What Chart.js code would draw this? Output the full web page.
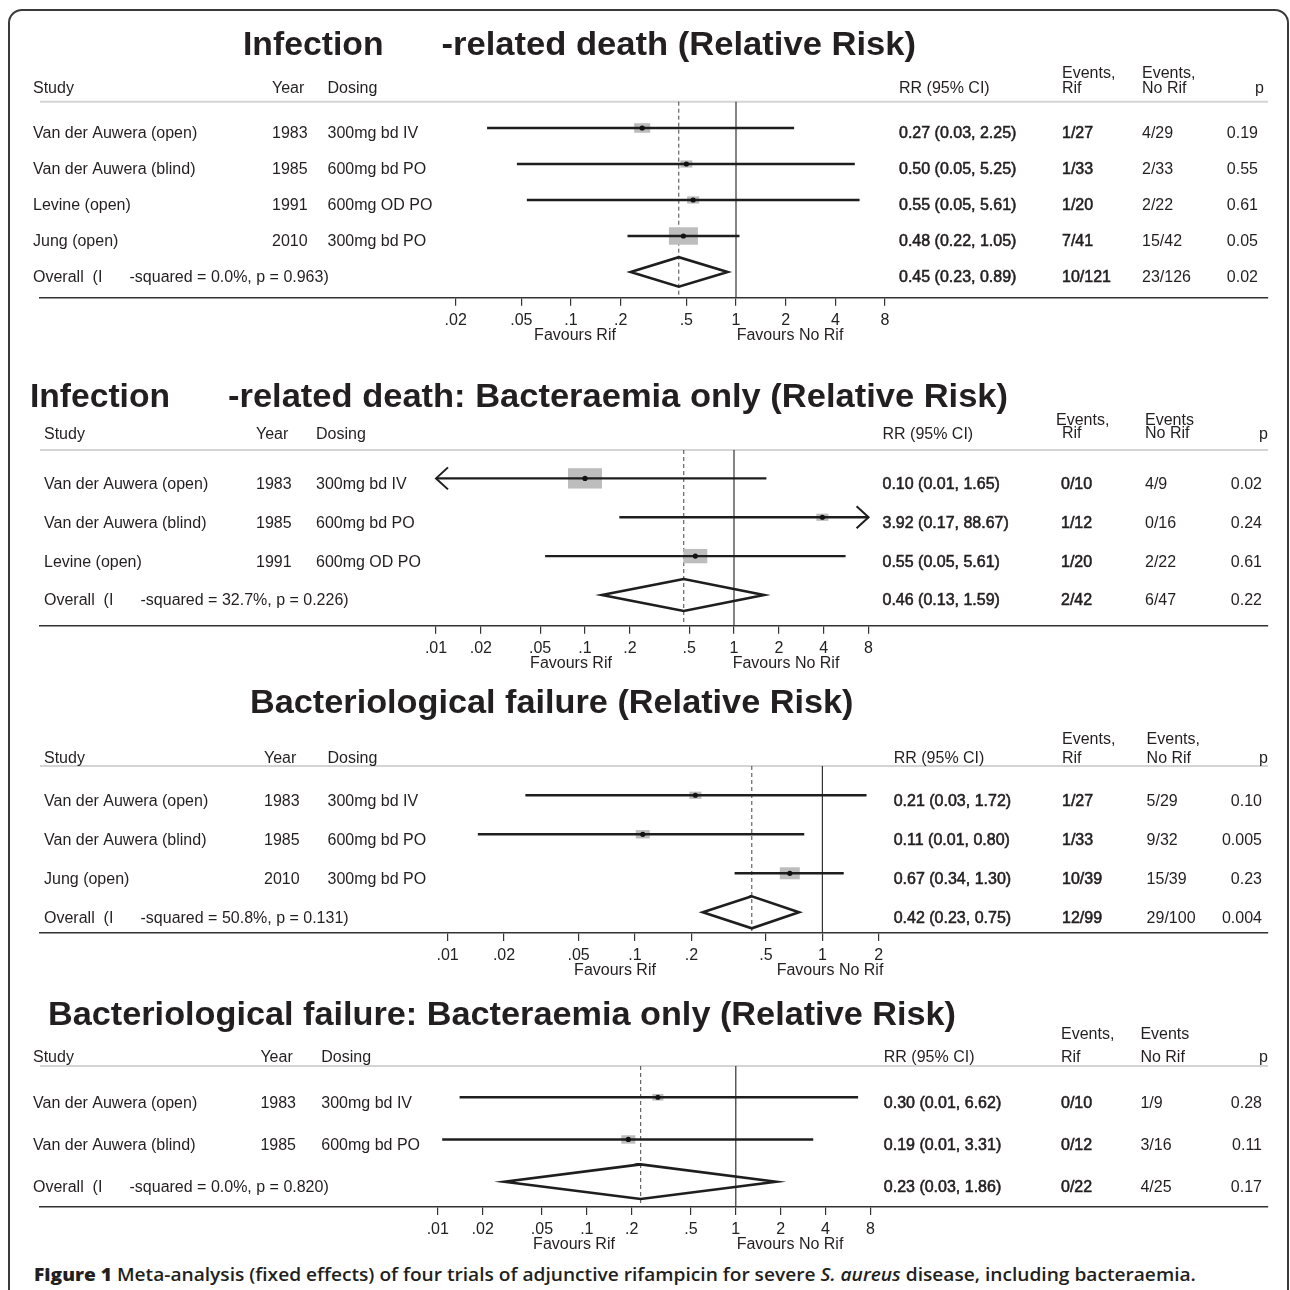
<!DOCTYPE html>
<html>
<head>
<meta charset="utf-8">
<script src="https://cdn.jsdelivr.net/npm/chart.js@4/dist/chart.umd.min.js"></script>
<style>
  html, body { margin: 0; padding: 0; background: #fff; }
  body { width: 1290px; height: 1290px; position: relative; overflow: hidden; }
  #frame { position: absolute; left: 8px; top: 9px; width: 1281px; height: 1400px; box-sizing: border-box;
           border: 2px solid #3a3a3a; border-radius: 14px; }
  canvas.panel { position: absolute; left: 0; }
  #caption { position: absolute; left: 34px; top: 1262px; line-height: 20px; white-space: nowrap;
             font: 600 18px "Open Sans", "Liberation Sans", sans-serif; color: #231f20; transform-origin: 0 0; }
  #caption b { font-weight: 800; }
</style>
</head>
<body>
<div id="frame"></div>
<canvas id="p1" class="panel"></canvas>
<canvas id="p2" class="panel"></canvas>
<canvas id="p3" class="panel"></canvas>
<canvas id="p4" class="panel"></canvas>
<div id="caption"><b>Figure 1</b> Meta-analysis (fixed effects) of four trials of adjunctive rifampicin for severe <i>S. aureus</i> disease, including bacteraemia.</div>

<script>
const FONT = '"Liberation Sans", Arial, Helvetica, sans-serif';
Chart.defaults.font.family = FONT;

// Infection-related death
const deathStudy = ['Van der Auwera (open)', 'Van der Auwera (blind)', 'Levine (open)', 'Jung (open)'];
const deathYear = ['1983', '1985', '1991', '2010'];
const deathDosing = ['300mg bd IV', '600mg bd PO', '600mg OD PO', '300mg bd PO'];
const deathRR = [0.27, 0.50, 0.55, 0.48];
const deathLow = [0.031, 0.047, 0.054, 0.22];
const deathHigh = [2.25, 5.25, 5.61, 1.05];
const deathWeight = [18.5, 10.4, 10.4, 60.7];
const deathRifEvents = [1, 1, 1, 7];
const deathRifTotal = [27, 33, 20, 41];
const deathNoRifEvents = [4, 2, 2, 15];
const deathNoRifTotal = [29, 33, 22, 42];
const deathP = ['0.19', '0.55', '0.61', '0.05'];
const deathOverall = [0.45, 0.23, 0.89];
const deathOverallP = '0.02';
const deathHetero = '-squared = 0.0%, p = 0.963)';
const deathTicks = [0.02, 0.05, 0.1, 0.2, 0.5, 1, 2, 4, 8];
const deathTickLabels = ['.02', '.05', '.1', '.2', '.5', '1', '2', '4', '8'];

// Infection-related death: bacteraemia only
const bacDeathStudy = ['Van der Auwera (open)', 'Van der Auwera (blind)', 'Levine (open)'];
const bacDeathYear = ['1983', '1985', '1991'];
const bacDeathDosing = ['300mg bd IV', '600mg bd PO', '600mg OD PO'];
const bacDeathRR = [0.10, 3.92, 0.55];
const bacDeathLow = [0.006, 0.17, 0.054];
const bacDeathHigh = [1.65, 88.67, 5.61];
const bacDeathWeight = [61.6, 7.7, 30.7];
const bacDeathRifEvents = [0, 1, 1];
const bacDeathRifTotal = [10, 12, 20];
const bacDeathNoRifEvents = [4, 0, 2];
const bacDeathNoRifTotal = [9, 16, 22];
const bacDeathP = ['0.02', '0.24', '0.61'];
const bacDeathOverall = [0.46, 0.13, 1.59];
const bacDeathOverallP = '0.22';
const bacDeathHetero = '-squared = 32.7%, p = 0.226)';
const bacDeathTicks = [0.01, 0.02, 0.05, 0.1, 0.2, 0.5, 1, 2, 4, 8];
const bacDeathTickLabels = ['.01', '.02', '.05', '.1', '.2', '.5', '1', '2', '4', '8'];

// Bacteriological failure
const failStudy = ['Van der Auwera (open)', 'Van der Auwera (blind)', 'Jung (open)'];
const failYear = ['1983', '1985', '2010'];
const failDosing = ['300mg bd IV', '600mg bd PO', '300mg bd PO'];
const failRR = [0.21, 0.11, 0.67];
const failLow = [0.026, 0.0145, 0.34];
const failHigh = [1.72, 0.80, 1.30];
const failWeight = [19.5, 26.5, 54.1];
const failRifEvents = [1, 1, 10];
const failRifTotal = [27, 33, 39];
const failNoRifEvents = [5, 9, 15];
const failNoRifTotal = [29, 32, 39];
const failP = ['0.10', '0.005', '0.23'];
const failOverall = [0.42, 0.23, 0.75];
const failOverallP = '0.004';
const failHetero = '-squared = 50.8%, p = 0.131)';
const failTicks = [0.01, 0.02, 0.05, 0.1, 0.2, 0.5, 1, 2];
const failTickLabels = ['.01', '.02', '.05', '.1', '.2', '.5', '1', '2'];

// Bacteriological failure: bacteraemia only
const bacFailStudy = ['Van der Auwera (open)', 'Van der Auwera (blind)'];
const bacFailYear = ['1983', '1985'];
const bacFailDosing = ['300mg bd IV', '600mg bd PO'];
const bacFailRR = [0.30, 0.19];
const bacFailLow = [0.014, 0.0107];
const bacFailHigh = [6.62, 3.31];
const bacFailWeight = [38.2, 61.8];
const bacFailRifEvents = [0, 0];
const bacFailRifTotal = [10, 12];
const bacFailNoRifEvents = [1, 3];
const bacFailNoRifTotal = [9, 16];
const bacFailP = ['0.28', '0.11'];
const bacFailOverall = [0.23, 0.028, 1.86];
const bacFailOverallP = '0.17';
const bacFailHetero = '-squared = 0.0%, p = 0.820)';
const bacFailTicks = [0.01, 0.02, 0.05, 0.1, 0.2, 0.5, 1, 2, 4, 8];
const bacFailTickLabels = ['.01', '.02', '.05', '.1', '.2', '.5', '1', '2', '4', '8'];

const sum = a => a.reduce((s, v) => s + v, 0);

// page layout for each panel (page pixels)
const panels = [
  {
    id: 'p1', top: 14, sepY: 101.7, axisY: 297.7, one: 736, decade: 165, padTop: 0.73, padBottom: 0.714, boxScale: 3.72,
    title: [['Infection', 243, 383.5], ['-related death (Relative Risk)', 441.5, 916]], titleY: 55,
    head: [['Study', 33, 93], ['Year', 272, 93], ['Dosing', 327.5, 93], ['RR (95% CI)', 899, 93],
           ['Events,', 1062, 78], ['Rif', 1062, 92.5], ['Events,', 1142, 78], ['No Rif', 1142, 92.5], ['p', 1264, 93, 'right']],
    col: { study: 33, year: 272, dosing: 327.5, rr: 899, evr: 1062, evn: 1142, p: 1258 },
    favours: [575, 790],
    d: { study: deathStudy, year: deathYear, dosing: deathDosing, rr: deathRR, low: deathLow, high: deathHigh,
         weight: deathWeight, re: deathRifEvents, rt: deathRifTotal, ne: deathNoRifEvents, nt: deathNoRifTotal,
         p: deathP, overall: deathOverall, overallP: deathOverallP, hetero: deathHetero,
         ticks: deathTicks, tickLabels: deathTickLabels }
  },
  {
    id: 'p2', top: 360, sepY: 450, axisY: 625.7, one: 734, decade: 149, padTop: 0.73, padBottom: 0.79, boxScale: 4.33,
    title: [['Infection', 30, 170], ['-related death: Bacteraemia only (Relative Risk)', 228, 1008]], titleY: 406.7,
    head: [['Study', 44, 439], ['Year', 256, 439], ['Dosing', 316, 439], ['RR (95% CI)', 882.5, 439],
           ['Events,', 1056, 425], ['Rif', 1062, 438], ['Events', 1145, 425], ['No Rif', 1145, 438], ['p', 1268, 439, 'right']],
    col: { study: 44, year: 256, dosing: 316, rr: 882.5, evr: 1061, evn: 1145, p: 1262 },
    favours: [571, 786],
    d: { study: bacDeathStudy, year: bacDeathYear, dosing: bacDeathDosing, rr: bacDeathRR, low: bacDeathLow, high: bacDeathHigh,
         weight: bacDeathWeight, re: bacDeathRifEvents, rt: bacDeathRifTotal, ne: bacDeathNoRifEvents, nt: bacDeathNoRifTotal,
         p: bacDeathP, overall: bacDeathOverall, overallP: bacDeathOverallP, hetero: bacDeathHetero,
         ticks: bacDeathTicks, tickLabels: bacDeathTickLabels }
  },
  {
    id: 'p3', top: 680, sepY: 766, axisY: 933, one: 822.4, decade: 187.4, padTop: 0.75, padBottom: 0.53, boxScale: 2.72,
    title: [['Bacteriological failure (Relative Risk)', 250, 853.5]], titleY: 713,
    head: [['Study', 44, 763], ['Year', 264, 763], ['Dosing', 327.5, 763], ['RR (95% CI)', 893.7, 763],
           ['Events,', 1062, 744], ['Rif', 1062, 763], ['Events,', 1146.6, 744], ['No Rif', 1146.6, 763], ['p', 1268, 763, 'right']],
    col: { study: 44, year: 264, dosing: 327.5, rr: 893.7, evr: 1062, evn: 1146.6, p: 1262 },
    favours: [615, 830],
    d: { study: failStudy, year: failYear, dosing: failDosing, rr: failRR, low: failLow, high: failHigh,
         weight: failWeight, re: failRifEvents, rt: failRifTotal, ne: failNoRifEvents, nt: failNoRifTotal,
         p: failP, overall: failOverall, overallP: failOverallP, hetero: failHetero,
         ticks: failTicks, tickLabels: failTickLabels }
  },
  {
    id: 'p4', top: 990, sepY: 1066, axisY: 1207, one: 735.8, decade: 149, padTop: 0.74, padBottom: 0.6, boxScale: 1.78,
    title: [['Bacteriological failure: Bacteraemia only (Relative Risk)', 48, 956]], titleY: 1025,
    head: [['Study', 33, 1062], ['Year', 260.4, 1062], ['Dosing', 321.3, 1062], ['RR (95% CI)', 883.8, 1062],
           ['Events,', 1061, 1039], ['Rif', 1061, 1062], ['Events', 1140.4, 1039], ['No Rif', 1140.4, 1062], ['p', 1268, 1062, 'right']],
    col: { study: 33, year: 260.4, dosing: 321.3, rr: 883.8, evr: 1061, evn: 1140.4, p: 1262 },
    favours: [574, 790],
    d: { study: bacFailStudy, year: bacFailYear, dosing: bacFailDosing, rr: bacFailRR, low: bacFailLow, high: bacFailHigh,
         weight: bacFailWeight, re: bacFailRifEvents, rt: bacFailRifTotal, ne: bacFailNoRifEvents, nt: bacFailNoRifTotal,
         p: bacFailP, overall: bacFailOverall, overallP: bacFailOverallP, hetero: bacFailHetero,
         ticks: bacFailTicks, tickLabels: bacFailTickLabels }
  }
];

const INK = '#1e1e1e';
const TEXT = '#231f20';
const ciText = (v, lo, hi) => `${v.toFixed(2)} (${lo.toFixed(2)}, ${hi.toFixed(2)})`;

function put(ctx, s, x, y, align, semi) {
  ctx.textAlign = align || 'left';
  ctx.fillText(s, x, y);
  if (semi) { ctx.lineWidth = 0.55; ctx.strokeText(s, x, y); }
}

function fitText(ctx, s, x0, x1, y) {
  const w = ctx.measureText(s).width;
  ctx.save();
  ctx.translate(x0, y);
  ctx.scale((x1 - x0) / w, 1);
  ctx.textAlign = 'left';
  ctx.fillText(s, 0, 0);
  ctx.restore();
}

function forestPlugin(L) {
  const d = L.d, n = d.study.length;
  const tMin = d.ticks[0], tMax = d.ticks[d.ticks.length - 1];
  return {
    id: 'forest_' + L.id,
    beforeDatasetsDraw(chart) {
      const { ctx, chartArea: a, scales: { x, y } } = chart;
      ctx.save();
      // header rule
      ctx.strokeStyle = '#d4d4d4';
      ctx.lineWidth = 2;
      ctx.beginPath(); ctx.moveTo(a.left, a.top); ctx.lineTo(a.right, a.top); ctx.stroke();
      // line of no effect
      const x1 = x.getPixelForValue(1);
      ctx.strokeStyle = '#333';
      ctx.lineWidth = 1.2;
      ctx.beginPath(); ctx.moveTo(x1, a.top); ctx.lineTo(x1, a.bottom); ctx.stroke();
      // pooled estimate
      const xo = x.getPixelForValue(d.overall[0]);
      ctx.strokeStyle = '#444';
      ctx.lineWidth = 1;
      ctx.setLineDash([4, 3]);
      ctx.beginPath(); ctx.moveTo(xo, a.top); ctx.lineTo(xo, a.bottom); ctx.stroke();
      ctx.setLineDash([]);
      // weight boxes
      ctx.fillStyle = '#bdbdbd';
      d.rr.forEach((v, i) => {
        const w = L.boxScale * Math.sqrt(d.weight[i]), h = w * 0.6;
        ctx.fillRect(x.getPixelForValue(v) - w / 2, y.getPixelForValue(i) - h / 2, w, h);
      });
      ctx.restore();
    },
    afterDatasetsDraw(chart) {
      const { ctx, scales: { x, y } } = chart;
      ctx.save();
      ctx.strokeStyle = INK;
      ctx.lineWidth = 2;
      d.rr.forEach((v, i) => {
        const yy = y.getPixelForValue(i);
        if (d.low[i] < tMin) {
          const xx = x.getPixelForValue(tMin);
          ctx.beginPath(); ctx.moveTo(xx + 12, yy - 11); ctx.lineTo(xx, yy); ctx.lineTo(xx + 12, yy + 11); ctx.stroke();
        }
        if (d.high[i] > tMax) {
          const xx = x.getPixelForValue(tMax);
          ctx.beginPath(); ctx.moveTo(xx - 12, yy - 11); ctx.lineTo(xx, yy); ctx.lineTo(xx - 12, yy + 11); ctx.stroke();
        }
      });
      ctx.restore();
    },
    afterDraw(chart) {
      const { ctx, scales: { y } } = chart;
      const top = L.top, c = L.col;
      ctx.save();
      ctx.fillStyle = TEXT;
      ctx.strokeStyle = TEXT;
      ctx.textBaseline = 'alphabetic';

      ctx.font = 'bold 33px ' + FONT;
      L.title.forEach(([s, x0, x1]) => fitText(ctx, s, x0, x1, L.titleY - top));

      ctx.font = '16px ' + FONT;
      L.head.forEach(([s, x, yy, align]) => put(ctx, s, x, yy - top, align));

      const row = (i, cells) => {
        const yy = y.getPixelForValue(i) + 10.5;
        cells.forEach(([s, x, align, semi]) => put(ctx, s, x, yy, align, semi));
      };
      d.study.forEach((s, i) => row(i, [
        [s, c.study], [d.year[i], c.year], [d.dosing[i], c.dosing],
        [ciText(d.rr[i], d.low[i], d.high[i]), c.rr, 'left', true],
        [`${d.re[i]}/${d.rt[i]}`, c.evr, 'left', true],
        [`${d.ne[i]}/${d.nt[i]}`, c.evn],
        [d.p[i], c.p, 'right']
      ]));
      row(n, [
        ['Overall  (I', c.study], [d.hetero, c.study + 96.5],
        [ciText(d.overall[0], d.overall[1], d.overall[2]), c.rr, 'left', true],
        [`${sum(d.re)}/${sum(d.rt)}`, c.evr, 'left', true],
        [`${sum(d.ne)}/${sum(d.nt)}`, c.evn],
        [d.overallP, c.p, 'right']
      ]);

      ctx.font = '16px ' + FONT;
      const fy = L.axisY + 42 - top;
      put(ctx, 'Favours Rif', L.favours[0], fy, 'center');
      put(ctx, 'Favours No Rif', L.favours[1], fy, 'center');
      ctx.restore();
    }
  };
}

function makePanel(L) {
  const d = L.d, n = d.study.length;
  const tMin = d.ticks[0], tMax = d.ticks[d.ticks.length - 1];
  const canvas = document.getElementById(L.id);
  const H = Math.round(L.axisY - L.top + 52);
  canvas.width = 1290;
  canvas.height = H;
  canvas.style.top = L.top + 'px';

  const left = 40, right = 1268;
  const xMin = Math.pow(10, (left - L.one) / L.decade);
  const xMax = Math.pow(10, (right - L.one) / L.decade);

  const ciSets = d.rr.map((v, i) => ({
    data: [{ x: Math.max(d.low[i], tMin), y: i }, { x: Math.min(d.high[i], tMax), y: i }],
    showLine: true, borderColor: INK, borderWidth: 2.4, pointRadius: 0, order: 2
  }));
  const [ov, olo, ohi] = d.overall;
  const dh = 0.41;
  const diamond = {
    data: [{ x: olo, y: n }, { x: ov, y: n - dh }, { x: ohi, y: n }, { x: ov, y: n + dh }, { x: olo, y: n }, { x: ov, y: n - dh }],
    showLine: true, borderColor: INK, borderWidth: 2.6, pointRadius: 0, borderJoinStyle: 'miter', order: 2
  };
  const points = {
    data: d.rr.map((v, i) => ({ x: v, y: i })),
    pointRadius: 2.6, pointBackgroundColor: '#111', pointBorderWidth: 0, showLine: false, order: 1
  };

  new Chart(canvas, {
    type: 'scatter',
    data: { datasets: [points, ...ciSets, diamond] },
    options: {
      responsive: false,
      animation: false,
      events: [],
      layout: { padding: { left: left, right: 1290 - right, top: L.sepY - L.top, bottom: 0 } },
      plugins: { legend: { display: false }, tooltip: { enabled: false } },
      scales: {
        x: {
          type: 'logarithmic', min: xMin, max: xMax, bounds: 'data',
          afterBuildTicks: s => { s.ticks = d.ticks.map(v => ({ value: v })); },
          afterFit: s => { s.height = H - (L.axisY - L.top); },
          ticks: { autoSkip: false, maxRotation: 0, color: '#222', padding: 5, font: { size: 16 },
                   callback: (v, i) => d.tickLabels[i] },
          grid: { drawOnChartArea: false, drawTicks: true, tickLength: 8, color: '#333', tickColor: '#333', lineWidth: 1.2 },
          border: { display: true, color: '#333', width: 1.5 }
        },
        y: { type: 'linear', reverse: true, min: -L.padTop, max: n + L.padBottom, bounds: 'data', display: false }
      }
    },
    plugins: [forestPlugin(L)]
  });
}

panels.forEach(makePanel);

const cap = document.getElementById('caption');
cap.style.transform = `scaleX(${1162 / cap.offsetWidth})`;
</script>
</body>
</html>
